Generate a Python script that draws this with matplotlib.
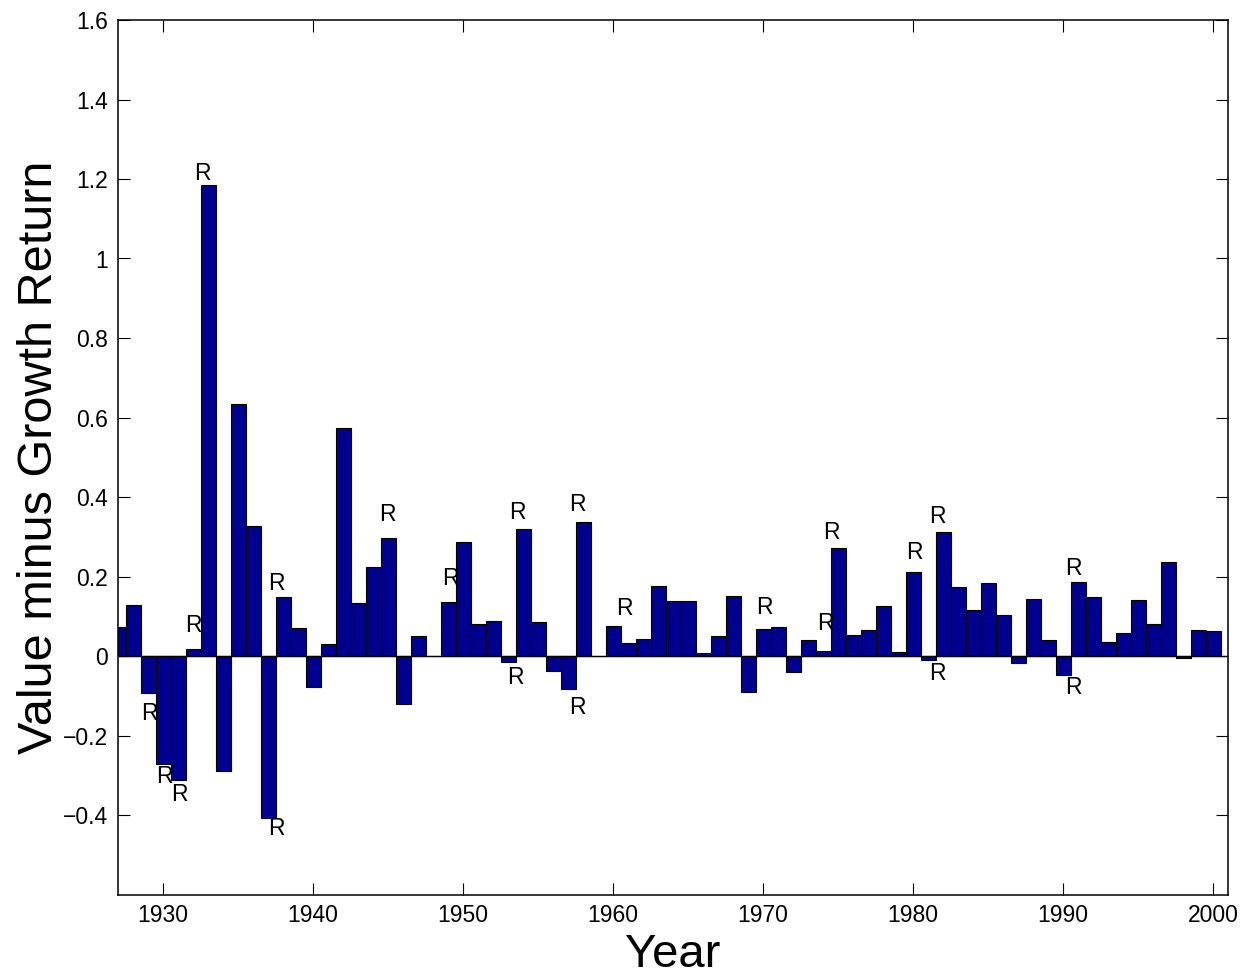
import matplotlib
matplotlib.use("Agg")
import matplotlib.pyplot as plt
from matplotlib.ticker import FuncFormatter

plt.rcParams['font.family'] = ['Liberation Sans', 'DejaVu Sans']

years = list(range(1927, 2001))
values = [
    0.073, 0.129, -0.093, -0.271, -0.313, 0.018, 1.185, -0.289, 0.633, 0.328,   # 1927-1936
    -0.408, 0.148, 0.071, -0.079, 0.031, 0.574, 0.134, 0.225, 0.298, -0.121,    # 1937-1946
    0.050, 0.000, 0.135, 0.286, 0.080, 0.088, -0.014, 0.319, 0.085, -0.037,     # 1947-1956
    -0.084, 0.338, 0.000, 0.075, 0.032, 0.043, 0.177, 0.139, 0.139, 0.007,      # 1957-1966
    0.051, 0.152, -0.091, 0.067, 0.074, -0.040, 0.040, 0.012, 0.271, 0.053,     # 1967-1976
    0.065, 0.127, 0.009, 0.211, -0.011, 0.311, 0.174, 0.116, 0.183, 0.103,      # 1977-1986
    -0.018, 0.143, 0.039, -0.048, 0.185, 0.148, 0.035, 0.057, 0.142, 0.080,     # 1987-1996
    0.236, -0.006, 0.065, 0.063,                                                 # 1997-2000
]

# "R" markers: label x (year units) and label y (value units)
r_x = [1929.07, 1930.07, 1931.07, 1932.05, 1932.63, 1937.58, 1937.58, 1944.95,
       1949.13, 1953.52, 1953.63, 1957.61, 1957.65, 1960.75, 1970.08, 1974.13,
       1974.55, 1980.08, 1981.61, 1981.60, 1990.69, 1990.69]
r_y = [-0.144, -0.303, -0.348, 0.077, 1.215, -0.435, 0.183, 0.355,
       0.196, -0.055, 0.360, -0.130, 0.382, 0.120, 0.122, 0.081,
       0.310, 0.260, -0.044, 0.350, -0.078, 0.221]

x_ticks = [1930, 1940, 1950, 1960, 1970, 1980, 1990, 2000]
y_ticks = [-0.4, -0.2, 0, 0.2, 0.4, 0.6, 0.8, 1.0, 1.2, 1.4, 1.6]

fig = plt.figure(figsize=(12.55, 9.8), dpi=100)
ax = fig.add_axes([118 / 1255, 85.5 / 980, 1110 / 1255, 874.5 / 980])

ax.bar(years, values, width=1.0, color='#00008F', edgecolor='black', linewidth=0.8, zorder=2)
ax.axhline(0, color='black', linewidth=1.0, zorder=3)

for x, y in zip(r_x, r_y):
    ax.text(x, y, 'R', ha='center', va='center', fontsize=16.5, color='black', zorder=4)

ax.set_xlim(1927, 2001)
ax.set_ylim(-0.6, 1.6)
ax.set_xticks(x_ticks)
ax.set_yticks(y_ticks)
ax.yaxis.set_major_formatter(FuncFormatter(lambda v, p: ('%g' % v).replace('-', '\u2212')))

ax.tick_params(direction='in', length=8.5, width=0.8, top=True, right=True,
               labelsize=16.5, pad=7)
for s in ax.spines.values():
    s.set_linewidth(1.1)

ax.set_xlabel('Year', fontsize=34, labelpad=4)
ax.set_ylabel('Value minus Growth Return', fontsize=35, labelpad=1)

fig.savefig('out.png', dpi=100)
